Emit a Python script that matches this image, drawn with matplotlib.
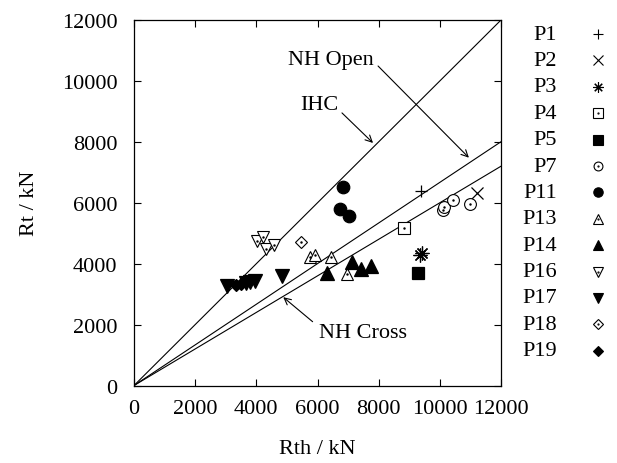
import matplotlib.pyplot as plt
import numpy as np

plt.rcParams['font.family'] = ['Liberation Serif', 'DejaVu Serif']

# Measured vs. theoretical resistance (kN) per pile
p1_x, p1_y = [9370], [6370]
p2_x, p2_y = [11200], [6330]
p3_x, p3_y = [9360, 9430], [4290, 4340]
p4_x, p4_y = [8840], [5170]
p5_x, p5_y = [9300], [3680]
p7_x, p7_y = [10110, 10130, 10420, 10980], [5760, 5850, 6100, 5960]
p11_x, p11_y = [6840, 6740, 7040], [6510, 5800, 5560]
p13_x, p13_y = [5750, 5930, 6440, 6950], [4220, 4290, 4230, 3650]
p14_x, p14_y = [6300, 7120, 7420, 7760], [3690, 4040, 3810, 3910]
p16_x, p16_y = [4010, 4230, 4320, 4580], [4740, 4860, 4480, 4600]
p17_x, p17_y = [3050, 3650, 3800, 3950, 4850], [3260, 3380, 3410, 3430, 3580]
p18_x, p18_y = [5460], [4720]
p19_x, p19_y = [3350, 3500], [3300, 3330]

# design lines: Rt = k * Rth
rth_line = np.array([0, 12000])
k_ihc = 1.0
k_open = 0.667
k_cross = 0.6

FS = 16

fig = plt.figure(figsize=(6.17, 4.64), dpi=100)
ax = fig.add_axes([0.2172, 0.167, 0.5948, 0.7877])

lw = 0.8
ax.plot(rth_line, k_ihc * rth_line, color='black', lw=lw)
ax.plot(rth_line, k_open * rth_line, color='black', lw=lw)
ax.plot(rth_line, k_cross * rth_line, color='black', lw=lw)

series = [
    (p1_x, p1_y, '+', True, 9, 'P1'),
    (p2_x, p2_y, 'x', True, 9, 'P2'),
    (p3_x, p3_y, (8, 2, 0), True, 10, 'P3'),
    (p4_x, p4_y, 's', False, 9, 'P4'),
    (p5_x, p5_y, 's', True, 9, 'P5'),
    (p7_x, p7_y, 'o', False, 8.5, 'P7'),
    (p11_x, p11_y, 'o', True, 9, 'P11'),
    (p13_x, p13_y, '^', False, 9, 'P13'),
    (p14_x, p14_y, '^', True, 9.5, 'P14'),
    (p16_x, p16_y, 'v', False, 9, 'P16'),
    (p17_x, p17_y, 'v', True, 9.5, 'P17'),
    (p18_x, p18_y, 'D', False, 6.5, 'P18'),
    (p19_x, p19_y, 'D', True, 6.5, 'P19'),
]

for xs, ys, m, filled, ms, name in series:
    if filled:
        ax.plot(xs, ys, ls='none', marker=m, ms=ms, color='black',
                mew=0.9, zorder=3)
    else:
        ax.plot(xs, ys, ls='none', marker=m, ms=ms, mfc='white', mec='black',
                mew=0.8, zorder=3)
        ax.plot(xs, ys, ls='none', marker='.', ms=1.5, color='black', zorder=4)

# line labels with pointer arrows
arrow = dict(arrowstyle='->', color='black', lw=0.8,
             shrinkA=0, shrinkB=0, mutation_scale=12)
ax.annotate('', xy=(10950, 7480), xytext=(7980, 10490), arrowprops=arrow)
ax.annotate('', xy=(7815, 7964), xytext=(6800, 8950), arrowprops=arrow)
ax.annotate('', xy=(4880, 2900), xytext=(5840, 2095), arrowprops=arrow)
ax.text(6440, 10720, 'NH Open', fontsize=FS, ha='center', va='center')
ax.text(6050, 9240, 'IHC', fontsize=FS, ha='center', va='center')
ax.text(7490, 1750, 'NH Cross', fontsize=FS, ha='center', va='center')

ax.set_xlim(0, 12000)
ax.set_ylim(0, 12000)
ax.set_xticks(np.arange(0, 12001, 2000))
ax.set_yticks(np.arange(0, 12001, 2000))
ax.tick_params(direction='in', top=True, right=True, length=5, width=0.8,
               labelsize=FS)
ax.tick_params(axis='x', pad=10)
ax.tick_params(axis='y', pad=12)
for s in ax.spines.values():
    s.set_linewidth(0.9)
ax.set_xlabel('Rth / kN', fontsize=FS, labelpad=15)
ax.set_ylabel('Rt / kN', fontsize=FS, labelpad=16)

# key on the right, label then symbol
W, H = 617, 464
for i, (xs, ys, m, filled, ms, name) in enumerate(series):
    yp = 35 + i * 26.4
    fy = 1 - yp / H
    fig.text(557 / W, fy, name, fontsize=FS, ha='right', va='center')
    lm = ms * 0.75
    if filled:
        fig.lines.append(plt.Line2D([598 / W], [fy], transform=fig.transFigure,
                                    ls='none', marker=m, ms=lm, color='black',
                                    mew=0.8))
    else:
        fig.lines.append(plt.Line2D([598 / W], [fy], transform=fig.transFigure,
                                    ls='none', marker=m, ms=lm, mfc='white',
                                    mec='black', mew=0.8))
        fig.lines.append(plt.Line2D([598 / W], [fy], transform=fig.transFigure,
                                    ls='none', marker='.', ms=1.2, color='black'))

fig.savefig('out.png', dpi=100)
